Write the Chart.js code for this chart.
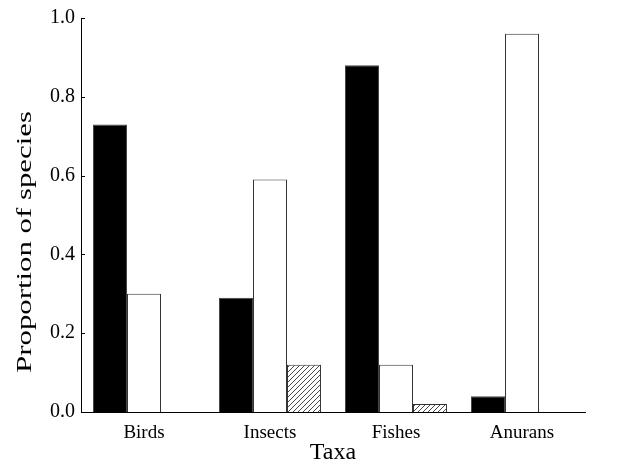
<!DOCTYPE html>
<html>
<head>
<meta charset="utf-8">
<script src="https://cdn.jsdelivr.net/npm/chart.js@4.4.1/dist/chart.umd.min.js"></script>
<style>
  html, body { margin: 0; padding: 0; background: #fff; }
  #wrap { width: 628px; height: 471px; }
</style>
</head>
<body>
<div id="wrap"><canvas id="taxaChart"></canvas></div>
<script>
const categories = ["Birds", "Insects", "Fishes", "Anurans"];
const blackValues = [0.73, 0.29, 0.88, 0.04];
const whiteValues = [0.30, 0.59, 0.12, 0.96];
const hatchValues = [null, 0.12, 0.02, null];
const yTicks = [0.0, 0.2, 0.4, 0.6, 0.8, 1.0];

const serif = "'Liberation Serif', 'Times New Roman', serif";

function makeHatch() {
  const c = document.createElement("canvas");
  c.width = 5;
  c.height = 5;
  const g = c.getContext("2d");
  g.fillStyle = "#fff";
  g.fillRect(0, 0, 5, 5);
  g.strokeStyle = "#333";
  g.lineWidth = 0.9;
  g.beginPath();
  g.moveTo(0, 5); g.lineTo(5, 0);
  g.moveTo(-1, 1); g.lineTo(1, -1);
  g.moveTo(4, 6); g.lineTo(6, 4);
  g.stroke();
  return g.createPattern(c, "repeat");
}

// tick marks pointing into the plot, plus the y title placed like the original
const extras = {
  id: "extras",
  afterDraw(chart) {
    const ctx = chart.ctx;
    const y = chart.scales.y;
    const left = chart.chartArea.left;
    ctx.save();
    ctx.strokeStyle = "#000";
    ctx.lineWidth = 1;
    y.ticks.forEach((_, i) => {
      const py = Math.round(y.getPixelForTick(i)) + 0.5;
      ctx.beginPath();
      ctx.moveTo(left, py);
      ctx.lineTo(left + 4, py);
      ctx.stroke();
    });
    ctx.fillStyle = "#000";
    ctx.font = "22px " + serif;
    ctx.textAlign = "center";
    ctx.textBaseline = "middle";
    ctx.translate(25, 242);
    ctx.rotate(-Math.PI / 2);
    ctx.scale(1.4, 1);
    ctx.fillText("Proportion of species", 0, 0);
    ctx.restore();
  },
};

new Chart(document.getElementById("taxaChart"), {
  type: "bar",
  data: {
    labels: categories,
    datasets: [
      { data: blackValues, backgroundColor: "#000", borderColor: "#444", borderWidth: 1 },
      { data: whiteValues, backgroundColor: "#fff", borderColor: "#333", borderWidth: 1 },
      { data: hatchValues, backgroundColor: makeHatch(), borderColor: "#333", borderWidth: 1 },
    ],
  },
  options: {
    responsive: true,
    maintainAspectRatio: false,
    animation: false,
    layout: { padding: { top: 17, right: 43, left: 0, bottom: 0 } },
    datasets: { bar: { categoryPercentage: 0.81, barPercentage: 1.0 } },
    plugins: { legend: { display: false }, tooltip: { enabled: false } },
    scales: {
      x: {
        grid: { display: false, drawTicks: false },
        border: { display: true, color: "#000", width: 1 },
        ticks: { color: "#000", padding: 10, font: { family: serif, size: 19 } },
        title: { display: true, text: "Taxa", color: "#000", padding: { top: 4 }, font: { family: serif, size: 24 } },
        afterFit: (s) => { s.height = 59; },
      },
      y: {
        min: 0,
        max: 1,
        afterBuildTicks: (s) => { s.ticks = yTicks.map((v) => ({ value: v })); },
        grid: { display: false, drawTicks: false },
        border: { display: true, color: "#000", width: 1 },
        ticks: {
          color: "#000",
          padding: 6,
          font: { family: serif, size: 20 },
          callback: (v) => Number(v).toFixed(1),
        },
        afterFit: (s) => { s.width = 81; },
      },
    },
  },
  plugins: [extras],
});
</script>
</body>
</html>
